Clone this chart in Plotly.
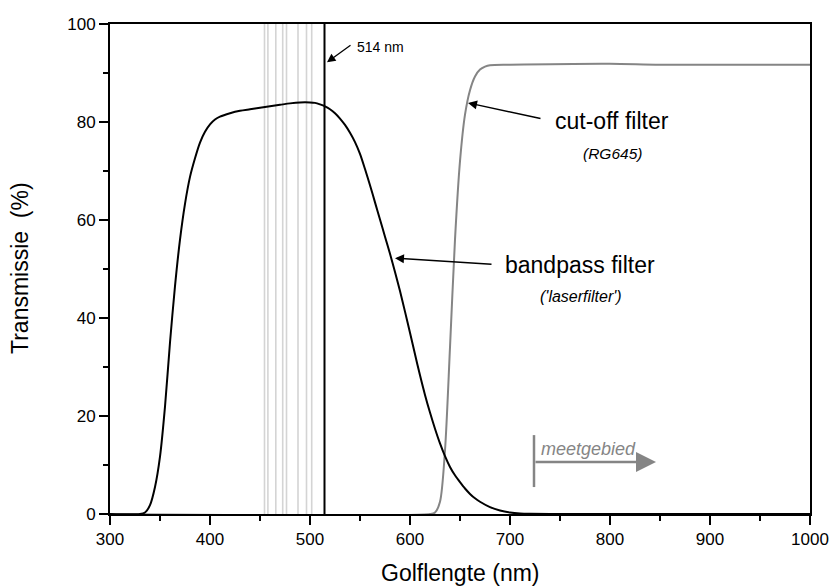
import plotly.graph_objects as go

# Bandpass filter ('laserfilter')
bp_wl = [300, 330, 335, 340, 345, 350, 355, 360, 365, 370, 375, 380, 385, 390, 395, 400, 405,
         410, 420, 430, 440, 450, 460, 470, 480, 490, 500, 505, 510, 515, 520, 525, 530, 535,
         540, 545, 550, 555, 560, 565, 570, 575, 580, 585, 590, 595, 600, 605, 610, 615, 620,
         625, 630, 635, 640, 645, 650, 655, 660, 665, 670, 680, 690, 700, 710, 720, 740, 1000]
bp_T = [0, 0, 0.3, 1.8, 5.5, 11.7, 21.9, 35, 46.5, 56, 63.3, 68.8, 72.6, 75.8, 78, 79.5, 80.5,
        81.1, 81.8, 82.3, 82.6, 82.9, 83.2, 83.5, 83.8, 84.0, 84.0, 83.9, 83.6, 83.2, 82.6, 81.8,
        80.7, 79.4, 77.8, 75.9, 73.5, 70.4, 67.1, 63.6, 60.1, 56.6, 53.1, 49.4, 45.5, 41.3, 37.0,
        32.6, 28.3, 24.3, 20.7, 17.4, 14.4, 11.8, 9.6, 7.9, 6.5, 5.2, 4.1, 3.2, 2.5, 1.4, 0.7,
        0.3, 0.1, 0.03, 0, 0]

# Cut-off filter (RG645)
co_wl = [300, 620, 625, 630, 635, 640, 645, 650, 655, 660, 665, 670, 675, 680, 700, 800, 850,
         1000]
co_T = [0, 0, 0.3, 2.5, 13, 34, 56, 72, 81.5, 86.5, 89.3, 90.7, 91.3, 91.6, 91.7, 91.9, 91.7,
        91.7]

# Laser lines (nm)
laser_lines = [454.5, 457.9, 465.8, 472.7, 476.5, 488.0, 496.5, 501.7]
main_line = 514.5

x_ticks = [300, 400, 500, 600, 700, 800, 900, 1000]
y_ticks = [0, 20, 40, 60, 80, 100]

FONT = "Liberation Sans, Arial, sans-serif"

fig = go.Figure()

for w in laser_lines:
    fig.add_trace(go.Scatter(x=[w, w], y=[0, 100], mode="lines",
                             line=dict(color="#d4d4d4", width=1.6), hoverinfo="skip",
                             showlegend=False))

fig.add_trace(go.Scatter(x=co_wl, y=co_T, mode="lines", line=dict(color="#858585", width=2,
                                                                   shape="spline", smoothing=0.8),
                         showlegend=False, cliponaxis=False))
fig.add_trace(go.Scatter(x=bp_wl, y=bp_T, mode="lines", line=dict(color="black", width=2,
                                                                   shape="spline", smoothing=0.8),
                         showlegend=False, cliponaxis=False))
fig.add_trace(go.Scatter(x=[main_line, main_line], y=[0, 100], mode="lines",
                         line=dict(color="black", width=2), showlegend=False))

annotations = []


def arrow(x, y, ax, ay, color="black", width=1.5, size=1.2):
    annotations.append(dict(x=x, y=y, xref="x", yref="y", ax=ax, ay=ay, text="",
                            showarrow=True, arrowhead=2, arrowsize=size, arrowwidth=width,
                            arrowcolor=color))


arrow(517, 92.2, 25, -18, size=1.3, width=1.3)
arrow(658, 83.9, 74, 16)
arrow(585, 52.2, 98, 6)
arrow(846, 10.6, -122, 0, color="#858585", width=2.5, size=1.6)


def text(x, y, t, size, color="black", italic=False, xanchor="center"):
    annotations.append(dict(x=x, y=y, xref="x", yref="y", text=t, showarrow=False,
                            xanchor=xanchor, yanchor="middle",
                            font=dict(family=FONT, size=size, color=color,
                                      style="italic" if italic else "normal")))


text(545, 95.3, "514 nm", 14, xanchor="left")
text(802, 80.2, "cut-off filter", 23)
text(802, 73.6, "(RG645)", 15.5, italic=True)
text(770, 50.8, "bandpass filter", 23)
text(771, 44.3, "('laserfilter')", 16, italic=True)
text(729, 13.3, "meetgebied", 18, color="#858585", italic=True, xanchor="left")

annotations.append(dict(x=0, y=0.502, xref="paper", yref="paper", xshift=-90,
                        text="Transmissie  (%)", textangle=-90, showarrow=False,
                        xanchor="center", yanchor="middle",
                        font=dict(family=FONT, size=23, color="black")))
annotations.append(dict(x=0.501, y=0, xref="paper", yref="paper", yshift=-59,
                        text="Golflengte (nm)", showarrow=False,
                        xanchor="center", yanchor="middle",
                        font=dict(family=FONT, size=23, color="black")))

shapes = [dict(type="line", xref="x", yref="y", x0=724, x1=724, y0=5.5, y1=16.1,
               line=dict(color="#858585", width=2.5))]

axis_common = dict(showgrid=False, zeroline=False, showline=True, linecolor="black",
                   linewidth=2, mirror=True, ticks="outside", ticklen=9, tickwidth=2,
                   tickcolor="black", tickfont=dict(family=FONT, size=17, color="black"),
                   layer="below traces", automargin=False)

fig.update_layout(
    width=830, height=587,
    margin=dict(l=110, r=20, t=24, b=73),
    paper_bgcolor="white", plot_bgcolor="white",
    xaxis=dict(range=[300, 1000], tickvals=x_ticks,
               minor=dict(ticks="outside", ticklen=5, tickwidth=2, tickcolor="black", dtick=50,
                          tick0=300),
               **axis_common),
    yaxis=dict(range=[0, 100], tickvals=y_ticks,
               minor=dict(ticks="outside", ticklen=5, tickwidth=2, tickcolor="black", dtick=10,
                          tick0=0),
               **axis_common),
    annotations=annotations,
    shapes=shapes,
    font=dict(family=FONT),
)

fig.write_html("out.html")
